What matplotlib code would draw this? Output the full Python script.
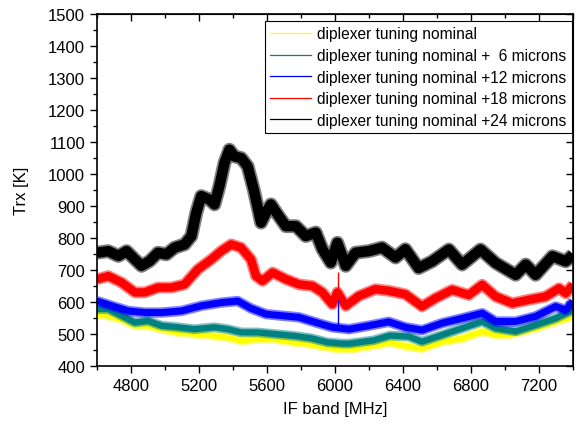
import matplotlib
matplotlib.use("Agg")
import matplotlib.pyplot as plt
from matplotlib.lines import Line2D
from matplotlib.ticker import MultipleLocator

plt.rcParams['font.family'] = ['Liberation Sans', 'DejaVu Sans']

# IF band [MHz] / Trx [K] (band centres)
f_nom = [4600, 4665, 4745, 4823, 4900, 4979, 5076, 5174, 5291, 5369, 5448, 5545, 5643, 5760,
         5858, 5955, 6041, 6085, 6200, 6324, 6434, 6512, 6630, 6748, 6866, 6945, 7004, 7063,
         7180, 7298, 7400]
t_nom = [562, 557, 546, 526, 526, 515, 505, 500, 494, 489, 479, 484, 484, 474,
         468, 458, 453, 452, 462, 473, 460, 455, 476, 486, 508, 497, 497, 502,
         518, 539, 555]

f_p6 = [4600, 4665, 4745, 4823, 4900, 4979, 5076, 5174, 5291, 5369, 5448, 5545, 5643, 5760,
        5858, 5955, 6041, 6085, 6225, 6324, 6434, 6512, 6630, 6748, 6866, 6945, 7063, 7180,
        7298, 7400]
t_p6 = [578, 578, 557, 536, 541, 526, 521, 515, 521, 515, 505, 505, 500, 494,
        487, 474, 470, 470, 480, 495, 492, 476, 497, 518, 539, 518, 508, 528,
        549, 575]

f_p12 = [4600, 4686, 4784, 4881, 4979, 5096, 5213, 5330, 5428, 5506, 5594, 5692, 5789, 5887,
         5984, 6082, 6199, 6316, 6414, 6512, 6630, 6748, 6866, 6945, 7063, 7180, 7298, 7357,
         7400]
t_p12 = [603, 588, 572, 567, 567, 572, 588, 598, 603, 580, 562, 557, 552, 536,
         521, 515, 526, 538, 521, 512, 534, 549, 565, 539, 539, 555, 586, 575,
         602]

f_p18 = [4600, 4666, 4744, 4823, 4881, 4959, 5037, 5115, 5193, 5272, 5330, 5389, 5447, 5506,
         5535, 5574, 5633, 5711, 5789, 5867, 5926, 5984, 6014, 6063, 6141, 6238, 6316, 6414,
         6512, 6591, 6689, 6787, 6866, 6945, 7043, 7141, 7239, 7318, 7357, 7400]
t_p18 = [671, 681, 661, 630, 630, 645, 645, 655, 702, 733, 759, 780, 770, 733,
         681, 666, 692, 671, 655, 650, 630, 593, 630, 588, 619, 640, 635, 624,
         586, 612, 638, 622, 654, 617, 596, 607, 617, 643, 627, 654]

f_p24 = [4600, 4666, 4725, 4774, 4823, 4862, 4910, 4959, 5008, 5057, 5115, 5155, 5184, 5213,
         5262, 5291, 5320, 5350, 5379, 5408, 5448, 5486, 5522, 5565, 5594, 5623, 5662, 5711,
         5770, 5828, 5887, 5926, 5975, 6014, 6063, 6121, 6199, 6277, 6356, 6414, 6492, 6571,
         6670, 6748, 6856, 6945, 7063, 7122, 7180, 7279, 7357, 7400]
t_p24 = [754, 759, 744, 759, 733, 713, 728, 754, 749, 770, 780, 806, 879, 931,
         920, 905, 962, 1035, 1076, 1055, 1050, 1024, 951, 848, 879, 905, 874, 837,
         837, 806, 817, 765, 723, 785, 713, 754, 759, 770, 739, 765, 706, 727,
         764, 717, 764, 722, 685, 717, 685, 743, 727, 748]

# narrow spike near 6020 MHz
spike_f = 6018
spike_red = (600, 695)
spike_blue = (512, 605)

labels = ['diplexer tuning nominal',
          'diplexer tuning nominal +  6 microns',
          'diplexer tuning nominal +12 microns',
          'diplexer tuning nominal +18 microns',
          'diplexer tuning nominal +24 microns']
colors = ['#ffff00', '#008080', '#0000ff', '#ff0000', '#000000']
widths = [4, 4.5, 5, 6, 7.5]

fig = plt.figure(figsize=(5.77, 4.27), dpi=100)
ax = fig.add_axes([97 / 577, 60 / 427, 476 / 577, 352 / 427])

series = [(f_nom, t_nom), (f_p6, t_p6), (f_p12, t_p12), (f_p18, t_p18), (f_p24, t_p24)]
for (f, t), c, w in zip(series, colors, widths):
    # soft fringe for the noise, then the dense core
    ax.plot(f, t, color=c, lw=w + 2.5, alpha=0.5, solid_joinstyle='round', solid_capstyle='butt')
    ax.plot(f, t, color=c, lw=w, solid_joinstyle='round', solid_capstyle='butt')

ax.vlines(spike_f, *spike_red, color='#ff0000', lw=1)
ax.vlines(spike_f, *spike_blue, color='#0000ff', lw=1)

ax.set_xlim(4600, 7400)
ax.set_ylim(400, 1500)
ax.xaxis.set_major_locator(MultipleLocator(400))
ax.xaxis.set_minor_locator(MultipleLocator(200))
ax.yaxis.set_major_locator(MultipleLocator(100))
ax.yaxis.set_minor_locator(MultipleLocator(50))
ax.set_xticks([4800, 5200, 5600, 6000, 6400, 6800, 7200])

ax.tick_params(which='both', direction='out', top=False, right=False, labelsize=12, width=1)
ax.tick_params(which='major', length=5)
ax.tick_params(which='minor', length=3)
for s in ax.spines.values():
    s.set_linewidth(1.2)

# inward ticks on top and right
sec_x = ax.secondary_xaxis('top')
sec_x.set_xticks([4800, 5200, 5600, 6000, 6400, 6800, 7200])
sec_x.xaxis.set_minor_locator(MultipleLocator(200))
sec_x.tick_params(which='both', direction='in', labeltop=False, width=1)
sec_x.tick_params(which='major', length=5)
sec_x.tick_params(which='minor', length=3)
sec_y = ax.secondary_yaxis('right')
sec_y.yaxis.set_major_locator(MultipleLocator(100))
sec_y.yaxis.set_minor_locator(MultipleLocator(50))
sec_y.tick_params(which='both', direction='in', labelright=False, width=1)
sec_y.tick_params(which='major', length=5)
sec_y.tick_params(which='minor', length=3)

ax.set_xlabel('IF band [MHz]', fontsize=12, labelpad=6)
ax.set_ylabel('Trx [K]', fontsize=12, labelpad=14)

handles = [Line2D([], [], color=c, lw=0.9) for c in colors]
leg = ax.legend(handles, labels, loc='upper right', bbox_to_anchor=(0.997, 0.98),
                fontsize=11.2, frameon=True, fancybox=False, framealpha=1,
                edgecolor='black', handlelength=2.6, handletextpad=0.4,
                labelspacing=0.42, borderpad=0.35, borderaxespad=0)
leg.get_frame().set_linewidth(0.8)

fig.savefig('out.png', dpi=100)
